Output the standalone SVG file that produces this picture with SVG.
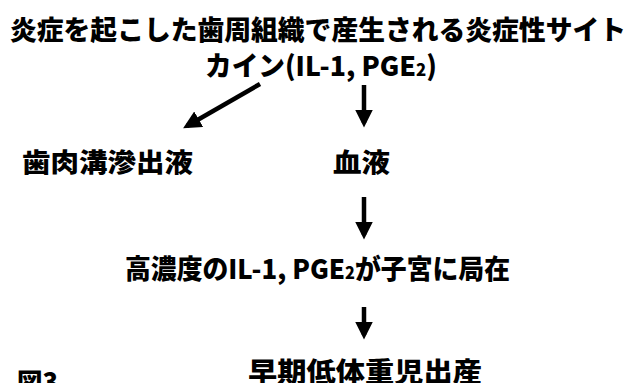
<svg xmlns="http://www.w3.org/2000/svg" width="634" height="383" viewBox="0 0 634 383">
<style>
text{font-family:"Noto Sans CJK JP","Noto Sans CJK SC",sans-serif;font-weight:900;fill:#000}
.big{font-size:27px}
.mid{font-size:26px}
.conn line{stroke:#000;stroke-width:4.5}
</style>
<defs>
<marker id="ah" markerWidth="4" markerHeight="4" refX="3" refY="2" orient="auto" markerUnits="strokeWidth">
<path d="M0,0 L4,2 L0,4 Z" fill="#000"/>
</marker>
</defs>
<rect width="634" height="383" fill="#fff"/>
<g id="n1">
<text class="big" x="318" y="40" text-anchor="middle" textLength="616" lengthAdjust="spacingAndGlyphs">炎症を起こした歯周組織で産生される炎症性サイト</text>
<text class="big" x="321" y="76" text-anchor="middle" textLength="232" lengthAdjust="spacingAndGlyphs">カイン(IL-1, PGE<tspan font-size="17">2</tspan>)</text>
</g>
<g id="n2"><text class="mid" x="22" y="172" textLength="171" lengthAdjust="spacingAndGlyphs">歯肉溝滲出液</text></g>
<g id="n3"><text class="mid" x="333" y="172" textLength="57" lengthAdjust="spacingAndGlyphs">血液</text></g>
<g id="n4"><text class="big" x="125" y="279" textLength="385" lengthAdjust="spacingAndGlyphs">高濃度のIL-1, PGE<tspan font-size="17">2</tspan>が子宮に局在</text></g>
<g id="n5"><text class="big" x="248" y="382" textLength="234" lengthAdjust="spacingAndGlyphs">早期低体重児出産</text></g>
<g id="fig"><text class="mid" x="17" y="392" textLength="41" lengthAdjust="spacingAndGlyphs">図3</text></g>
<g class="conn" id="connectors">
<line x1="260" y1="84" x2="187" y2="126" marker-end="url(#ah)"/>
<line x1="364" y1="85" x2="364" y2="123" marker-end="url(#ah)"/>
<line x1="364" y1="197" x2="364" y2="235" marker-end="url(#ah)"/>
<line x1="364" y1="307" x2="364" y2="335" marker-end="url(#ah)"/>
</g>
</svg>
